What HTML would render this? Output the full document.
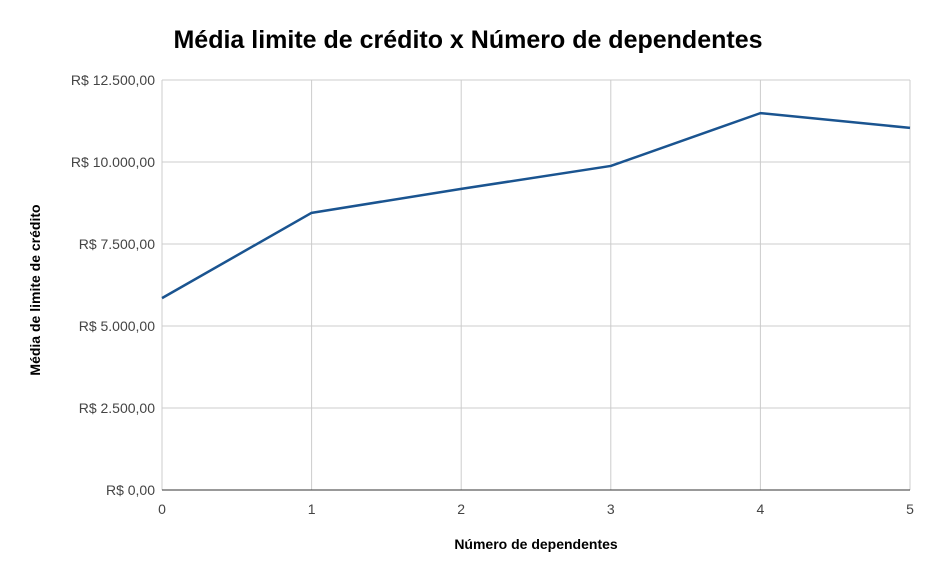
<!DOCTYPE html>
<html><head><meta charset="utf-8"><style>
body{margin:0;background:#fff;font-family:"Liberation Sans",Arial,sans-serif;}
svg text{font-family:"Liberation Sans",Arial,sans-serif;}
</style></head><body>
<svg id="chart" width="936" height="578" xmlns="http://www.w3.org/2000/svg">
<rect width="936" height="578" fill="#fff"/>
<text x="468" y="48" text-anchor="middle" font-size="25" font-weight="bold" fill="#000">Média limite de crédito x Número de dependentes</text>
<g id="grid"></g><g id="axes"></g><g id="series"></g>
<text x="536" y="549" text-anchor="middle" font-size="14" font-weight="bold" fill="#000">Número de dependentes</text>
<text transform="translate(40,290) rotate(-90)" text-anchor="middle" font-size="14" font-weight="bold" fill="#000">Média de limite de crédito</text>
</svg>
<script>
const categories=[0,1,2,3,4,5];
const values=[5850,8450,9180,9880,11490,11040];
const yTicks=[0,2500,5000,7500,10000,12500];
const yTickLabels=["R$ 0,00","R$ 2.500,00","R$ 5.000,00","R$ 7.500,00","R$ 10.000,00","R$ 12.500,00"];
const NS="http://www.w3.org/2000/svg";
const L=162,R=910,T=80,B=490;
function xs(i){return L+(R-L)*(i-categories[0])/(categories[categories.length-1]-categories[0]);}
function ys(v){return B-(B-T)*v/12500;}
function mk(tag,a,parent){const e=document.createElementNS(NS,tag);for(const k in a)e.setAttribute(k,a[k]);parent.appendChild(e);return e;}
const grid=document.getElementById('grid'),axes=document.getElementById('axes'),series=document.getElementById('series');
yTicks.forEach((v,i)=>{
  const y=ys(v);
  if(v!==0){const g=mk('line',{x1:L,x2:R,y1:y,y2:y,stroke:'#cccccc','stroke-width':1},grid);
  
  }
  const t=mk('text',{x:L-7,y:y+5,'text-anchor':'end','font-size':14,fill:'#444'},axes);t.textContent=yTickLabels[i];
  
  
});
categories.forEach(c=>{
  const x=xs(c);
  const g=mk('line',{x1:x,x2:x,y1:T,y2:B,stroke:'#cccccc','stroke-width':1},grid);
  
  
  const t=mk('text',{x:x,y:B+24,'text-anchor':'middle','font-size':14,fill:'#444'},axes);t.textContent=c;
  
  
});
const ax=mk('line',{x1:L,x2:R,y1:B,y2:B,stroke:'#333','stroke-width':1},axes);


const pts=categories.map((c,i)=>xs(c)+','+ys(values[i])).join(' ');
const pl=mk('polyline',{points:pts,fill:'none',stroke:'#1a5490','stroke-width':2.5,'stroke-linejoin':'round'},series);


</script>
</body></html>
